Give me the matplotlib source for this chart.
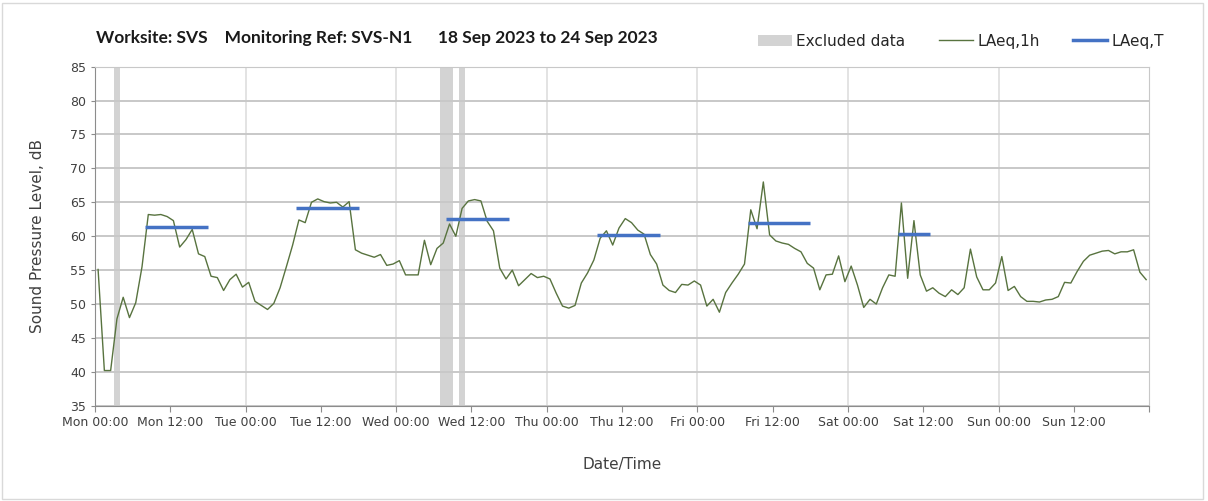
import numpy as np
import matplotlib
matplotlib.use("Agg")
import matplotlib.pyplot as plt
from matplotlib.patches import Patch, Rectangle
from matplotlib.lines import Line2D

# hourly LAeq,1h values (dB), Mon 00:00 onwards
laeq_1h = [
    55.1, 40.2, 40.2, 47.8, 51.0, 48.0, 50.2, 55.5, 63.2, 63.1, 63.2, 62.9,
    62.3, 58.4, 59.5, 61.0, 57.4, 57.0, 54.1, 53.9, 52.0, 53.6, 54.4, 52.5,
    53.2, 50.4, 49.8, 49.2, 50.1, 52.4, 55.5, 58.7, 62.4, 62.0, 65.0, 65.5,
    65.1, 64.9, 65.0, 64.3, 65.1, 58.0, 57.5, 57.2, 56.9, 57.3, 55.7, 55.9,
    56.4, 54.3, 54.3, 54.3, 59.4, 55.8, 58.2, 59.0, 61.8, 60.0, 64.1, 65.2,
    65.4, 65.2, 62.2, 60.8, 55.3, 53.7, 55.0, 52.7, 53.6, 54.5, 53.9, 54.1,
    53.7, 51.6, 49.7, 49.4, 49.8, 53.1, 54.6, 56.5, 59.7, 60.8, 58.7, 61.2,
    62.6, 62.0, 60.9, 60.3, 57.3, 55.9, 52.8, 52.0, 51.7, 52.9, 52.8, 53.4,
    52.8, 49.7, 50.7, 48.8, 51.7, 53.1, 54.4, 55.9, 63.9, 61.1, 68.0, 60.2,
    59.3, 59.0, 58.8, 58.2, 57.7, 56.0, 55.3, 52.1, 54.3, 54.4, 57.1, 53.3,
    55.6, 52.8, 49.5, 50.7, 50.0, 52.4, 54.3, 54.1, 64.9, 53.8, 62.3, 54.3,
    51.9, 52.4, 51.6, 51.1, 52.1, 51.4, 52.4, 58.1, 54.0, 52.1, 52.1, 53.1,
    57.0, 52.0, 52.6, 51.1, 50.4, 50.4, 50.3, 50.6, 50.7, 51.1, 53.2, 53.1,
    54.8, 56.3, 57.2, 57.5, 57.8, 57.9, 57.4, 57.7, 57.7, 58.0, 54.7, 53.6,
]

# LAeq,T periods: start hour, end hour, level
laeq_t_start = [8, 32, 56, 80, 104, 128]
laeq_t_end = [18, 42, 66, 90, 114, 133]
laeq_t_value = [61.3, 64.1, 62.6, 60.2, 61.9, 60.4]

# excluded periods (hours)
excl_start = [3, 55, 58]
excl_end = [4, 57, 59]

days = ["Mon", "Tue", "Wed", "Thu", "Fri", "Sat", "Sun"]
tick_labels = [f"{d} {t}" for d in days for t in ("00:00", "12:00")] + [""]

green = "#58733f"
blue = "#4472c4"
grey_band = "#d3d3d3"
txt = "#404040"

fig = plt.figure(figsize=(12.08, 5.01), dpi=100)
ax = fig.add_axes([0.0786, 0.190, 0.8728, 0.677])

fig.patches.append(Rectangle((0.002, 0.004), 0.994, 0.99, transform=fig.transFigure,
                             fill=False, edgecolor="#d9d9d9", linewidth=1))

for s, e in zip(excl_start, excl_end):
    ax.axvspan(s, e, color=grey_band, linewidth=0, zorder=1)

hours = np.arange(len(laeq_1h)) + 0.5
ax.plot(hours, laeq_1h, color=green, linewidth=1.0, zorder=3)

for s, e, v in zip(laeq_t_start, laeq_t_end, laeq_t_value):
    ax.plot([s, e], [v, v], color=blue, linewidth=2.5, solid_capstyle="butt", zorder=4)

ax.set_xlim(0, 168)
ax.set_ylim(35, 85)
ax.set_yticks(np.arange(35, 86, 5))
ax.set_xticks(np.arange(0, 169, 12))
ax.set_xticklabels(tick_labels)

ax.yaxis.grid(True, color="#c8c8c8", linewidth=1.4, zorder=0)
for d in range(24, 168, 24):
    ax.axvline(d, color="#dedede", linewidth=1.2, zorder=0)

for side in ("left", "bottom"):
    ax.spines[side].set_color("#8c8c8c")
for side in ("top", "right"):
    ax.spines[side].set_color("#c8c8c8")

ax.tick_params(axis="both", colors="#8c8c8c", labelcolor=txt, labelsize=9, length=4)
ax.tick_params(axis="y", length=3)

ax.set_ylabel("Sound Pressure Level, dB", fontsize=11, color=txt, labelpad=18)
ax.set_xlabel("Date/Time", fontsize=11, color=txt, labelpad=20)

fig.text(0.0795, 0.925, "Worksite: SVS    Monitoring Ref: SVS-N1      18 Sep 2023 to 24 Sep 2023",
         fontsize=12.5, fontweight="bold", color="#1a1a1a", family="Lato", va="center")

handles = [Patch(facecolor=grey_band, edgecolor="none"),
           Line2D([], [], color=green, linewidth=1.0),
           Line2D([], [], color=blue, linewidth=2.5)]
fig.legend(handles, ["Excluded data", "LAeq,1h", "LAeq,T"], loc="center right",
           bbox_to_anchor=(0.975, 0.918), ncol=3, frameon=False, fontsize=11,
           handlelength=2.2, handletextpad=0.3, columnspacing=2.2, labelcolor="#262626")

fig.savefig("out.png", dpi=100)
